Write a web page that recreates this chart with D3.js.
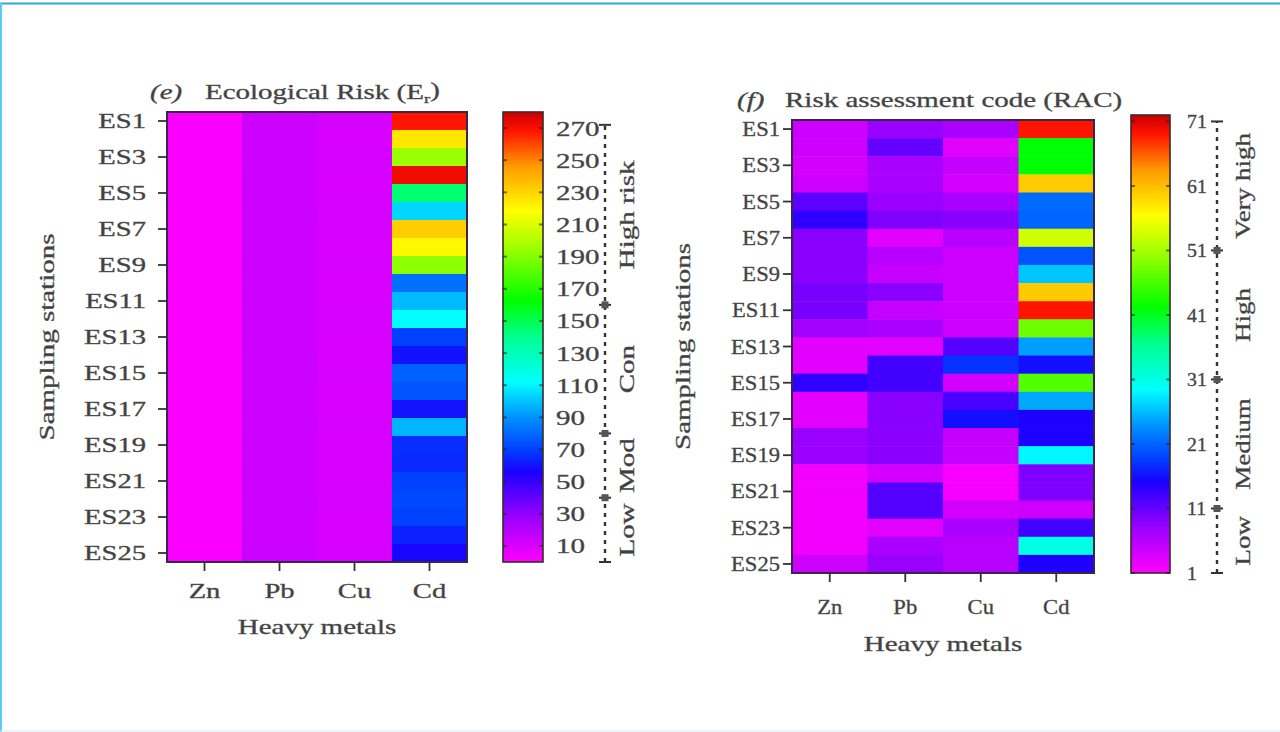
<!DOCTYPE html>
<html>
<head>
<meta charset="utf-8">
<script src="https://cdn.jsdelivr.net/npm/d3@7"></script>
<style>
  html, body { margin: 0; padding: 0; background: #fff; }
  svg { display: block; }
  text { font-family: "Liberation Serif", "Times New Roman", serif; fill: #404040; stroke: #555; stroke-width: 0.35px; }
</style>
</head>
<body>
<svg id="chart" width="1280" height="732"></svg>
<script>
// ---- categories ----
const stations = ["ES1","ES2","ES3","ES4","ES5","ES6","ES7","ES8","ES9","ES10","ES11","ES12","ES13",
                  "ES14","ES15","ES16","ES17","ES18","ES19","ES20","ES21","ES22","ES23","ES24","ES25"];
const metals = ["Zn", "Pb", "Cu", "Cd"];

// ---- (e) potential ecological risk factor Er, one value per station ----
const erZn = [1.6,1.5,1.7,1.5,1.6,1.4,1.5,1.6,1.5,1.4,1.6,1.5,1.5,1.6,1.4,1.5,1.6,1.5,1.5,1.4,1.6,1.5,1.5,1.6,1.5];
const erPb = [13.8,14.2,13.5,14.0,13.6,14.4,13.9,14.1,13.7,14.3,13.8,14.0,13.6,14.2,13.9,14.1,13.7,14.0,13.8,14.2,13.6,13.9,14.1,13.8,14.0];
const erCu = [11.2,10.8,11.5,11.0,10.9,11.3,11.1,10.7,11.4,11.0,10.8,11.2,11.1,10.9,11.3,11.0,10.8,11.2,11.1,10.9,11.0,11.3,10.8,11.1,11.0];
const erCd = [268,225,195,272,145,104,232,220,192,82,98,112,70,60,78,75,60,97,66,65,70,72,70,63,57];

// ---- (f) risk assessment code RAC (%) ----
const racZn = [4.5,4.5,4,4.5,11.5,14,9,9,9,10,10,7.5,3,3,14,3,3,8,8,2,2,2,2,2,4.5];
const racPb = [8,11,7,7,8,9.5,3,6,5,9,5,7,3,13,13,9,9,9,9,4,12,12,3,7,8];
const racCu = [7,3,5,4,7,9,6,4.5,4.5,4.5,4.5,4.5,12,18,4,12.5,16,5,5,1.5,1.5,4,7,6,6];
const racCd = [69,42,42,60,21.5,21,53.5,20,26.5,60,69,48,24.5,16,46.5,25,15,15,29,9.5,9.5,4.5,13,31,15];

// ---- colour bar ticks and risk classes ----
const erTicks = [10,30,50,70,90,110,130,150,170,190,210,230,250,270];
const racTicks = [1,11,21,31,41,51,61,71];
const erClassNames = ["Low", "Mod", "Con", "High risk"];
const erClassBreaks = [0, 40, 80, 160, 272];
const racClassNames = ["Low", "Medium", "High", "Very high"];
const racClassBreaks = [1, 11, 31, 51, 71];

// rainbow palette, magenta (low) to dark red (high)
const rainbowStops  = [0, 0.10, 0.20, 0.25, 0.32, 0.40, 0.50, 0.58, 0.70, 0.78, 0.88, 0.96, 1];
const rainbowColors = ["#ff00ff","#9900ff","#1a00ff","#0040ff","#0090ff","#00ffff","#00ff90",
                       "#00ff00","#a0ff00","#ffff00","#ff9900","#ff1000","#c80000"];
const rainbow = d3.scaleLinear().domain(rainbowStops).range(rainbowColors)
  .interpolate(d3.interpolateRgb).clamp(true);

const svg = d3.select("#chart");
svg.append("rect").attr("width", 1280).attr("height", 732).attr("fill", "#fff");

// page frame
svg.append("line").attr("x1", 0).attr("x2", 1280).attr("y1", 3.5).attr("y2", 3.5)
  .attr("stroke", "#2fa6de").attr("stroke-width", 2);
svg.append("line").attr("x1", 1).attr("x2", 1).attr("y1", 3).attr("y2", 732)
  .attr("stroke", "#5ccbf0").attr("stroke-width", 2);
svg.append("line").attr("x1", 0).attr("x2", 1280).attr("y1", 731).attr("y2", 731)
  .attr("stroke", "#d6ecf4").attr("stroke-width", 1);

const defs = svg.append("defs");

// stretched serif text, placed at (x,y) with optional rotation
function label(g, x, y, str, o = {}) {
  return g.append("text")
    .attr("transform", `translate(${x},${y}) rotate(${o.rot || 0}) scale(${o.sx || 1.45},1)`)
    .attr("text-anchor", o.anchor || "middle")
    .attr("dy", o.dy || "0")
    .style("font-size", (o.size || 20) + "px")
    .text(str);
}

function drawPanel(p) {
  const g = svg.append("g");
  const x = d3.scaleBand().domain(metals).range([p.x0, p.x1]);
  const y = d3.scaleBand().domain(stations).range([p.y0, p.y1]);
  const toUnit = d3.scaleLinear().domain(p.domain).range([0, 1]).clamp(true);
  const color = v => rainbow(toUnit(v));

  // heatmap cells
  const cells = [];
  metals.forEach((m, i) => p.values[i].forEach((v, j) => cells.push({ m, s: stations[j], v })));
  g.selectAll("rect.cell").data(cells).join("rect")
    .attr("class", "cell")
    .attr("x", d => x(d.m)).attr("y", d => y(d.s))
    .attr("width", x.bandwidth() + 0.5).attr("height", y.bandwidth() + 0.5)
    .attr("fill", d => color(d.v));
  g.append("rect").attr("x", p.x0).attr("y", p.y0)
    .attr("width", p.x1 - p.x0).attr("height", p.y1 - p.y0)
    .attr("fill", "none").attr("stroke", "#3a2648").attr("stroke-width", 2);

  // station axis
  const ya = g.append("g").attr("transform", `translate(${p.x0},0)`)
    .call(d3.axisLeft(y).tickValues(stations.filter((d, i) => i % 2 === 0)).tickSize(9).tickSizeOuter(0));
  ya.select(".domain").remove();
  ya.selectAll(".tick line").attr("stroke", "#333").attr("stroke-width", 1.8);
  ya.selectAll(".tick text").attr("x", null).attr("dy", "0.35em")
    .attr("transform", `translate(${-p.ylabGap},0) scale(${p.tickSx},1)`)
    .style("font-size", "20px").attr("fill", null).attr("font-family", null);

  // metal axis
  const xa = g.append("g").attr("transform", `translate(0,${p.y1})`)
    .call(d3.axisBottom(x).tickSize(9).tickSizeOuter(0));
  xa.select(".domain").remove();
  xa.selectAll(".tick line").attr("stroke", "#333").attr("stroke-width", 1.8);
  xa.selectAll(".tick text").attr("y", null).attr("dy", "0")
    .attr("transform", `translate(0,${p.xlabGap}) scale(${p.tickSx},1)`)
    .style("font-size", "20px").attr("fill", null).attr("font-family", null);

  // axis titles
  label(g, (p.x0 + p.x1) / 2, p.xTitleY, "Heavy metals");
  label(g, p.yTitleX, (p.y0 + p.y1) / 2, "Sampling stations", { rot: -90, dy: "0.35em" });

  // panel title
  label(g, p.tagX, p.titleY, p.tag, { anchor: "start" }).style("font-style", "italic");
  const t = label(g, p.titleX, p.titleY, "", { anchor: "start" });
  t.append("tspan").text(p.title);
  if (p.sub) {
    t.append("tspan").text(p.sub).attr("dy", "0.3em").style("font-size", "13px");
    t.append("tspan").text(")").attr("dy", "-0.3em");
  }

  // colour bar
  const gid = "grad" + p.tag.replace(/\W/g, "");
  const grad = defs.append("linearGradient").attr("id", gid)
    .attr("x1", 0).attr("y1", 1).attr("x2", 0).attr("y2", 0);
  rainbowStops.forEach((s, i) => grad.append("stop").attr("offset", s).attr("stop-color", rainbowColors[i]));
  const cy = d3.scaleLinear().domain(p.domain).range([p.cbY1, p.cbY0]);
  g.append("rect").attr("x", p.cbX).attr("y", p.cbY0)
    .attr("width", p.cbW).attr("height", p.cbY1 - p.cbY0)
    .attr("fill", `url(#${gid})`).attr("stroke", "#3a2a2a").attr("stroke-width", 1.6);
  const inner = g.append("g");
  p.ticks.forEach(v => {
    inner.append("line").attr("x1", p.cbX).attr("x2", p.cbX + 4).attr("y1", cy(v)).attr("y2", cy(v))
      .attr("stroke", "#222").attr("stroke-width", 2).attr("opacity", 0.6);
    inner.append("line").attr("x1", p.cbX + p.cbW - 4).attr("x2", p.cbX + p.cbW).attr("y1", cy(v)).attr("y2", cy(v))
      .attr("stroke", "#222").attr("stroke-width", 2).attr("opacity", 0.6);
  });
  const ca = g.append("g").attr("transform", `translate(${p.cbLabelX},0)`)
    .call(d3.axisRight(cy).tickValues(p.ticks).tickSize(0).tickPadding(0));
  ca.select(".domain").remove();
  ca.selectAll(".tick text").attr("x", null).attr("dy", "0.35em")
    .attr("transform", `scale(${p.cbSx},1)`)
    .style("font-size", p.cbSize + "px").attr("fill", null).attr("font-family", null);

  // risk class scale beside the colour bar
  const b = p.classBreaks;
  g.append("line").attr("x1", p.classX).attr("x2", p.classX)
    .attr("y1", cy(b[0])).attr("y2", cy(b[b.length - 1]))
    .attr("stroke", "#333").attr("stroke-width", 2.4).attr("stroke-dasharray", "4,5");
  b.forEach((v, i) => {
    g.append("line").attr("x1", p.classX - 6).attr("x2", p.classX + 6)
      .attr("y1", cy(v)).attr("y2", cy(v)).attr("stroke", "#333").attr("stroke-width", 2);
    if (i > 0 && i < b.length - 1) {
      g.append("rect").attr("x", p.classX - 3.5).attr("y", cy(v) - 3.5)
        .attr("width", 7).attr("height", 7).attr("fill", "#555");
    }
  });
  p.classNames.forEach((n, i) => {
    label(g, p.classLabelX, (cy(b[i]) + cy(b[i + 1])) / 2, n, { rot: -90, dy: "0.35em", sx: p.classSx });
  });
}

drawPanel({
  tag: "(e)", title: "Ecological Risk (E", sub: "r",
  tagX: 150, titleX: 205, titleY: 99,
  values: [erZn, erPb, erCu, erCd],
  x0: 167, x1: 467, y0: 112, y1: 562,
  tickSx: 1.43, ylabGap: 21, xlabGap: 36,
  xTitleY: 634, yTitleX: 47,
  domain: [0, 280], ticks: erTicks,
  cbX: 503, cbW: 40, cbY0: 112, cbY1: 562,
  cbLabelX: 556, cbSx: 1.45, cbSize: 20,
  classBreaks: erClassBreaks, classNames: erClassNames,
  classX: 605, classLabelX: 627, classSx: 1.45
});

drawPanel({
  tag: "(f)", title: "Risk assessment code (RAC)", sub: null,
  tagX: 737, titleX: 785, titleY: 107,
  values: [racZn, racPb, racCu, racCd],
  x0: 792, x1: 1094, y0: 120, y1: 573,
  tickSx: 1.13, ylabGap: 12, xlabGap: 41,
  xTitleY: 651, yTitleX: 683,
  domain: [1, 72], ticks: racTicks,
  cbX: 1131, cbW: 39, cbY0: 115, cbY1: 573,
  cbLabelX: 1187, cbSx: 1.1, cbSize: 18,
  classBreaks: racClassBreaks, classNames: racClassNames,
  classX: 1217, classLabelX: 1243, classSx: 1.35
});
</script>
</body>
</html>
